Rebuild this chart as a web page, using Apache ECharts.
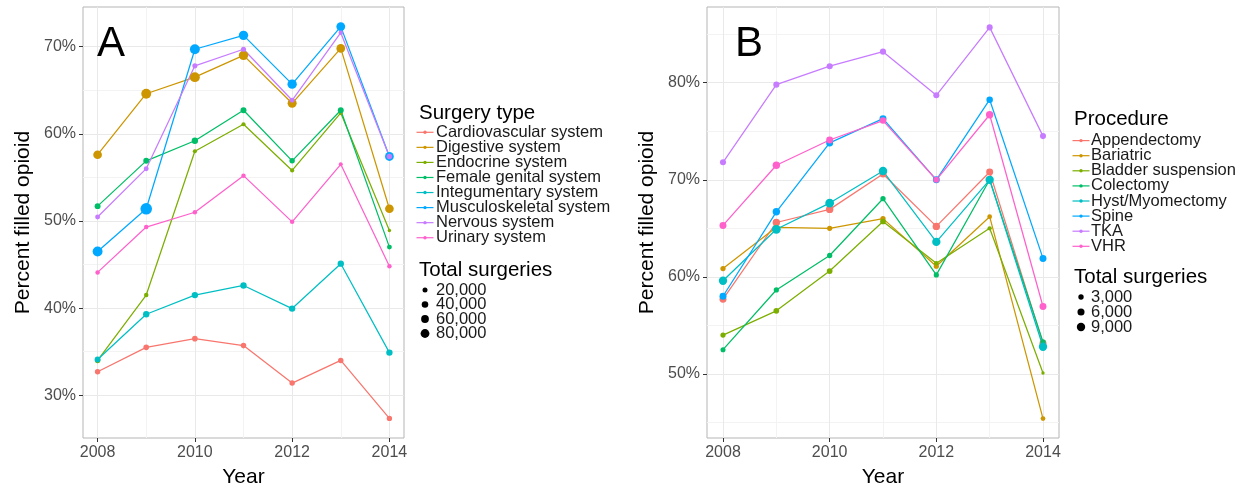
<!DOCTYPE html>
<html>
<head>
<meta charset="utf-8">
<script src="https://cdn.jsdelivr.net/npm/echarts@6/dist/echarts.min.js"></script>
<style>
html,body{margin:0;padding:0;background:#fff;}
#chart{width:1245px;height:492px;}
</style>
</head>
<body>
<div id="chart"></div>
<script>
// ---------- data ----------
const years = [2008, 2009, 2010, 2011, 2012, 2013, 2014];

// Panel A
const surgeryTypes = ["Cardiovascular system", "Digestive system", "Endocrine system", "Female genital system",
  "Integumentary system", "Musculoskeletal system", "Nervous system", "Urinary system"];
const cardiovascularPct = [32.7, 35.5, 36.5, 35.7, 31.4, 34.0, 27.35];
const digestivePct      = [57.6, 64.6, 66.5, 69.0, 63.5, 69.8, 51.4];
const endocrinePct      = [34.0, 41.5, 58.0, 61.1, 55.8, 62.4, 48.9];
const femaleGenitalPct  = [51.7, 56.9, 59.2, 62.7, 56.9, 62.7, 47.0];
const integumentaryPct  = [34.1, 39.3, 41.5, 42.6, 39.95, 45.1, 34.9];
const musculoPct        = [46.5, 51.4, 69.7, 71.3, 65.7, 72.3, 57.4];
const nervousPct        = [50.45, 56.0, 67.8, 69.7, 63.85, 71.6, 57.4];
const urinaryPct        = [44.1, 49.3, 51.0, 55.2, 49.9, 56.5, 44.8];

const cardiovascularN = [25000, 27000, 27000, 26000, 25000, 25000, 24000];
const digestiveN      = [78000, 105000, 105000, 92000, 85000, 78000, 78000];
const endocrineN      = [25000, 15000, 12000, 12000, 12000, 12000, 7000];
const femaleGenitalN  = [31000, 31000, 37000, 31000, 25000, 31000, 19000];
const integumentaryN  = [31000, 37000, 37000, 37000, 37000, 37000, 37000];
const musculoN        = [105000, 150000, 105000, 92000, 92000, 80000, 80000];
const nervousN        = [19000, 19000, 21000, 21000, 19000, 15000, 25000];
const urinaryN        = [15000, 15000, 15000, 15000, 15000, 11000, 15000];

// Panel B
const procedures = ["Appendectomy", "Bariatric", "Bladder suspension", "Colectomy",
  "Hyst/Myomectomy", "Spine", "TKA", "VHR"];
const appendectomyPct = [57.7, 65.6, 66.95, 70.6, 65.2, 70.8, 53.15];
const bariatricPct    = [60.85, 65.1, 65.0, 66.0, 61.1, 66.2, 45.4];
const bladderPct      = [54.0, 56.5, 60.6, 65.7, 61.4, 65.0, 50.1];
const colectomyPct    = [52.5, 58.65, 62.2, 68.05, 60.2, 70.0, 53.3];
const hystPct         = [59.6, 64.9, 67.6, 70.9, 63.6, 70.0, 52.8];
const spinePct        = [58.0, 66.7, 73.8, 76.3, 70.0, 78.25, 61.9];
const tkaPct          = [71.8, 79.8, 81.7, 83.2, 78.7, 85.7, 74.5];
const vhrPct          = [65.3, 71.5, 74.1, 76.1, 70.0, 76.7, 56.95];

const appendectomyN = [5800, 6700, 6700, 5800, 6700, 5800, 5800];
const bariatricN    = [2800, 2800, 2800, 2800, 2800, 2200, 2200];
const bladderN      = [2800, 3500, 3500, 3500, 2200, 1700, 800];
const colectomyN    = [2600, 2800, 2900, 2900, 2800, 2900, 2800];
const hystN         = [8800, 10000, 10000, 9300, 8800, 8800, 8800];
const spineN        = [5800, 6700, 5800, 5800, 5800, 4900, 5800];
const tkaN          = [4100, 4200, 4200, 4200, 4100, 4100, 4100];
const vhrN          = [5800, 6700, 5800, 4900, 4100, 6700, 5800];

// ticks / legend labels
const xTicks = [2008, 2010, 2012, 2014];
const xMinor = [2009, 2011, 2013];
const yTicksA = [30, 40, 50, 60, 70];
const yMinorA = [35, 45, 55, 65];
const yTicksB = [50, 60, 70, 80];
const yMinorB = [45, 55, 65, 75, 85];
const sizeBreaksA = [20000, 40000, 60000, 80000];
const sizeBreaksB = [3000, 6000, 9000];
const colors = ["#F8766D", "#CD9600", "#7CAE00", "#00BE67", "#00BFC4", "#00A9FF", "#C77CFF", "#FF61CC"];

// ---------- build ----------
const pctA = [cardiovascularPct, digestivePct, endocrinePct, femaleGenitalPct, integumentaryPct, musculoPct, nervousPct, urinaryPct];
const nA = [cardiovascularN, digestiveN, endocrineN, femaleGenitalN, integumentaryN, musculoN, nervousN, urinaryN];
const pctB = [appendectomyPct, bariatricPct, bladderPct, colectomyPct, hystPct, spinePct, tkaPct, vhrPct];
const nB = [appendectomyN, bariatricN, bladderN, colectomyN, hystN, spineN, tkaN, vhrN];

const sizeA = v => 1.2 + 7.6 * Math.sqrt(v / 80000);
const sizeB = v => 1.2 + 7.2 * Math.sqrt(v / 9000);

const FONT = "'Liberation Sans', Arial, Helvetica, sans-serif";
const chart = echarts.init(document.getElementById('chart'), null, {renderer: 'canvas'});

function gridMarkLine(xMaj, xMin, yMaj, yMin) {
  const d = [];
  xMin.forEach(v => d.push({xAxis: v, lineStyle: {color: '#f3f3f3', width: 1, type: 'solid'}}));
  yMin.forEach(v => d.push({yAxis: v, lineStyle: {color: '#f3f3f3', width: 1, type: 'solid'}}));
  xMaj.forEach(v => d.push({xAxis: v, lineStyle: {color: '#e9e9e9', width: 1, type: 'solid'}}));
  yMaj.forEach(v => d.push({yAxis: v, lineStyle: {color: '#e9e9e9', width: 1, type: 'solid'}}));
  return {silent: true, symbol: ['none', 'none'], label: {show: false}, z: 1, animation: false, data: d};
}

const series = [];
function addPanel(idx, names, pcts, ns, sizeFn, ml) {
  names.forEach((name, i) => {
    const s = {
      type: 'line', name: name, xAxisIndex: idx, yAxisIndex: idx,
      data: years.map((y, j) => [y, pcts[i][j]]),
      showSymbol: false, symbol: 'none',
      lineStyle: {color: colors[i], width: 1.25},
      itemStyle: {color: colors[i]},
      z: 2, animation: false, silent: true
    };
    if (i === 0) s.markLine = ml;
    series.push(s);
  });
  names.forEach((name, i) => {
    series.push({
      type: 'scatter', name: name + ' pts', xAxisIndex: idx, yAxisIndex: idx,
      data: years.map((y, j) => [y, pcts[i][j], ns[i][j]]),
      symbol: 'circle',
      symbolSize: d => sizeFn(d[2]),
      itemStyle: {color: colors[i], opacity: 1},
      z: 3, animation: false, silent: true
    });
  });
}
addPanel(0, surgeryTypes, pctA, nA, sizeA, gridMarkLine(xTicks, xMinor, yTicksA, yMinorA));
addPanel(1, procedures, pctB, nB, sizeB, gridMarkLine(xTicks, xMinor, yTicksB, yMinorB));

function xAxisCfg(gi) {
  return {
    gridIndex: gi, type: 'value', min: 2007.7, max: 2014.3,
    axisLine: {show: false},
    axisTick: {show: true, length: 4, customValues: xTicks, lineStyle: {color: '#333', width: 1}},
    axisLabel: {customValues: xTicks, margin: 7, color: '#4d4d4d', fontSize: 16, fontFamily: FONT, formatter: v => String(v)},
    splitLine: {show: false}, minorTick: {show: false},
    name: 'Year', nameLocation: 'middle', nameGap: 29,
    nameTextStyle: {fontSize: 21, color: '#000', fontFamily: FONT}
  };
}
function yAxisCfg(gi, min, max, ticks) {
  return {
    gridIndex: gi, type: 'value', min: min, max: max,
    axisLine: {show: false},
    axisTick: {show: true, length: 4, customValues: ticks, lineStyle: {color: '#333', width: 1}},
    axisLabel: {customValues: ticks, margin: 7, color: '#4d4d4d', fontSize: 16, fontFamily: FONT, formatter: v => v + '%'},
    splitLine: {show: false},
    name: 'Percent filled opioid', nameLocation: 'middle', nameGap: 49,
    nameTextStyle: {fontSize: 21, color: '#000', fontFamily: FONT}
  };
}

// legends as graphics
const graphics = [];
function addLegend(title, names, sizeTitle, breaks, sizeFn, o) {
  graphics.push({type: 'text', left: o.titleX, top: o.titleY - 12, silent: true,
    style: {text: title, font: '20.5px ' + FONT, fill: '#000'}});
  names.forEach((n, i) => {
    const cy = o.itemY + i * o.itemGap;
    graphics.push({type: 'line', silent: true, shape: {x1: o.keyX - 8.5, y1: cy, x2: o.keyX + 8.5, y2: cy},
      style: {stroke: colors[i], lineWidth: 1.2}});
    graphics.push({type: 'circle', silent: true, shape: {cx: o.keyX, cy: cy, r: 1.7}, style: {fill: colors[i]}});
    graphics.push({type: 'text', silent: true, x: o.textX, y: cy,
      style: {text: n, font: '16.5px ' + FONT, fill: '#1a1a1a', verticalAlign: 'middle'}});
  });
  graphics.push({type: 'text', left: o.titleX, top: o.sizeTitleY - 12, silent: true,
    style: {text: sizeTitle, font: '20.5px ' + FONT, fill: '#000'}});
  breaks.forEach((b, i) => {
    const cy = o.sizeY + i * o.sizeGap;
    graphics.push({type: 'circle', silent: true, shape: {cx: o.keyX, cy: cy, r: sizeFn(b) / 2}, style: {fill: '#000'}});
    graphics.push({type: 'text', silent: true, x: o.textX, y: cy,
      style: {text: b.toLocaleString('en-US'), font: '16.5px ' + FONT, fill: '#1a1a1a', verticalAlign: 'middle'}});
  });
}
addLegend('Surgery type', surgeryTypes, 'Total surgeries', sizeBreaksA, sizeA,
  {titleX: 419, titleY: 115, keyX: 425, textX: 436, itemY: 132.3, itemGap: 15.06, sizeTitleY: 272, sizeY: 290, sizeGap: 14.5});
addLegend('Procedure', procedures, 'Total surgeries', sizeBreaksB, sizeB,
  {titleX: 1074, titleY: 121, keyX: 1081, textX: 1091, itemY: 140.6, itemGap: 15.1, sizeTitleY: 278.5, sizeY: 297, sizeGap: 15});

graphics.push({type: 'text', x: 97, y: 44, silent: true, z: 100,
  style: {text: 'A', font: '42px ' + FONT, fill: '#000', verticalAlign: 'middle'}});
graphics.push({type: 'text', x: 735, y: 44, silent: true, z: 100,
  style: {text: 'B', font: '42px ' + FONT, fill: '#000', verticalAlign: 'middle'}});

const option = {
  backgroundColor: '#fff',
  animation: false,
  textStyle: {fontFamily: FONT},
  grid: [
    {left: 83, top: 7, width: 321, height: 431, show: true, borderColor: '#b5b5b5', borderWidth: 1, backgroundColor: '#fff', containLabel: false, outerBoundsMode: 'none'},
    {left: 707, top: 7, width: 352, height: 431, show: true, borderColor: '#b5b5b5', borderWidth: 1, backgroundColor: '#fff', containLabel: false, outerBoundsMode: 'none'}
  ],
  xAxis: [xAxisCfg(0), xAxisCfg(1)],
  yAxis: [yAxisCfg(0, 25.1, 74.55, yTicksA), yAxisCfg(1, 43.4, 87.8, yTicksB)],
  series: series,
  graphic: graphics
};
chart.setOption(option);
</script>
</body>
</html>
